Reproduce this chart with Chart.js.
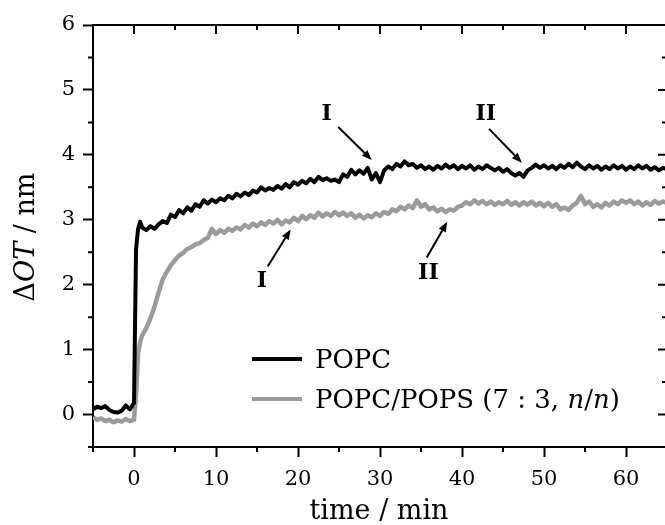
<!DOCTYPE html>
<html>
<head>
<meta charset="utf-8">
<script src="https://cdn.jsdelivr.net/npm/chart.js@4"></script>
<style>
  html, body { margin: 0; padding: 0; background: #fff; overflow: hidden; }
  #wrap { width: 675px; height: 525px; }
</style>
</head>
<body>
<div id="wrap"><canvas id="c" width="675" height="525"></canvas></div>
<script>
// Time after injection (min)
const timeMin = [
  -5, -4.5, -4, -3.5, -3, -2.5, -2, -1.5, -1, -0.5, 0,
  0.25, 0.5, 0.75, 1,
  1.5, 2, 2.5, 3, 3.5, 4, 4.5, 5, 5.5, 6,
  6.5, 7, 7.5, 8, 8.5, 9, 9.5, 10, 10.5, 11,
  11.5, 12, 12.5, 13, 13.5, 14, 14.5, 15, 15.5, 16,
  16.5, 17, 17.5, 18, 18.5, 19, 19.5, 20, 20.5, 21,
  21.5, 22, 22.5, 23, 23.5, 24, 24.5, 25, 25.5, 26,
  26.5, 27, 27.5, 28, 28.5, 29, 29.5, 30, 30.5, 31,
  31.5, 32, 32.5, 33, 33.5, 34, 34.5, 35, 35.5, 36,
  36.5, 37, 37.5, 38, 38.5, 39, 39.5, 40, 40.5, 41,
  41.5, 42, 42.5, 43, 43.5, 44, 44.5, 45, 45.5, 46,
  46.5, 47, 47.5, 48, 48.5, 49, 49.5, 50, 50.5, 51,
  51.5, 52, 52.5, 53, 53.5, 54, 54.5, 55, 55.5, 56,
  56.5, 57, 57.5, 58, 58.5, 59, 59.5, 60, 60.5, 61,
  61.5, 62, 62.5, 63, 63.5, 64, 64.5, 65
];

// Optical thickness change, POPC bilayer (nm)
const popc = [
  0.08, 0.12, 0.10, 0.13, 0.07, 0.04, 0.03, 0.06, 0.14, 0.08, 0.18,
  2.55, 2.86, 2.97, 2.88,
  2.84, 2.90, 2.86, 2.93, 2.98, 2.95, 3.08, 3.04, 3.15, 3.10,
  3.19, 3.14, 3.24, 3.20, 3.30, 3.25, 3.31, 3.27, 3.33, 3.30,
  3.37, 3.33, 3.40, 3.36, 3.42, 3.38, 3.45, 3.42, 3.50, 3.45,
  3.49, 3.46, 3.52, 3.48, 3.55, 3.50, 3.58, 3.54, 3.60, 3.56,
  3.63, 3.58, 3.66, 3.61, 3.64, 3.60, 3.62, 3.58, 3.70, 3.66,
  3.77, 3.70, 3.76, 3.71, 3.80, 3.62, 3.72, 3.58, 3.76, 3.82,
  3.78, 3.86, 3.82, 3.90, 3.84, 3.86, 3.80, 3.84, 3.78, 3.82,
  3.77, 3.83, 3.79, 3.85, 3.80, 3.84, 3.78, 3.83, 3.79, 3.84,
  3.77, 3.82, 3.78, 3.84, 3.80, 3.76, 3.80, 3.74, 3.78, 3.72,
  3.68, 3.72, 3.66, 3.76, 3.80, 3.85, 3.80, 3.84, 3.79, 3.83,
  3.78, 3.84, 3.80, 3.86, 3.81, 3.88, 3.82, 3.78, 3.84, 3.79,
  3.83, 3.77, 3.82, 3.78, 3.84, 3.79, 3.83, 3.77, 3.82, 3.78,
  3.84, 3.79, 3.83, 3.77, 3.81, 3.76, 3.80, 3.78
];

// Optical thickness change, POPC/POPS (7:3) bilayer (nm)
const popcPops = [
  -0.04, -0.08, -0.06, -0.10, -0.08, -0.12, -0.09, -0.11, -0.07, -0.10, -0.08,
  0.30, 0.95, 1.12, 1.22,
  1.33, 1.48, 1.66, 1.88, 2.08, 2.20, 2.30, 2.38, 2.45, 2.49,
  2.55, 2.58, 2.62, 2.64, 2.69, 2.72, 2.86, 2.78, 2.84, 2.80,
  2.86, 2.83, 2.88, 2.85, 2.92, 2.88, 2.94, 2.90, 2.96, 2.92,
  2.98, 2.94, 3.00, 2.93, 2.99, 2.96, 3.03, 2.98, 3.06, 3.01,
  3.07, 3.03, 3.11, 3.05, 3.10, 3.06, 3.12, 3.07, 3.11, 3.06,
  3.10, 3.03, 3.08, 3.02, 3.07, 3.04, 3.10, 3.06, 3.12, 3.09,
  3.16, 3.13, 3.20, 3.16, 3.22, 3.18, 3.30, 3.20, 3.24, 3.16,
  3.19, 3.13, 3.17, 3.12, 3.16, 3.14, 3.20, 3.22, 3.27, 3.24,
  3.30, 3.25, 3.29, 3.24, 3.28, 3.23, 3.27, 3.24, 3.29, 3.23,
  3.27, 3.22, 3.27, 3.23, 3.28, 3.22, 3.26, 3.21, 3.26, 3.20,
  3.24, 3.16, 3.19, 3.15, 3.22, 3.26, 3.37, 3.24, 3.28, 3.20,
  3.24, 3.19, 3.26, 3.22, 3.28, 3.24, 3.30, 3.26, 3.30, 3.24,
  3.28, 3.22, 3.27, 3.23, 3.29, 3.25, 3.28, 3.26
];

// Axis ticks
const xMajorTicks = [0, 10, 20, 30, 40, 50, 60];
const xMinorTicks = [-5, 5, 15, 25, 35, 45, 55, 65];
const yMajorTicks = [0, 1, 2, 3, 4, 5, 6];
const yMinorTicks = [-0.5, 0.5, 1.5, 2.5, 3.5, 4.5, 5.5];

// Legend entries (text runs: [text, italic])
const legendPOPC = [['POPC', false]];
const legendMix = [['POPC/POPS (7 : 3, ', false], ['n', true], ['/', false], ['n', true], [')', false]];

// Event markers: label position and arrow (data units)
const markers = [
  { text: 'I',  at: [23.5, 4.62], from: [24.9, 4.43], to: [29.0, 3.92] },
  { text: 'II', at: [42.9, 4.62], from: [43.3, 4.40], to: [47.3, 3.88] },
  { text: 'I',  at: [15.6, 2.05], from: [16.3, 2.28], to: [19.1, 2.85] },
  { text: 'II', at: [35.9, 2.18], from: [35.7, 2.42], to: [38.2, 2.97] }
];

const SERIF = '"DejaVu Serif", "Liberation Serif", serif';
const BLACK = '#000000';
const GREY = '#9b9b9b';

function toPoints(xs, ys) { return xs.map((t, i) => ({ x: t, y: ys[i] })); }

function drawRuns(ctx, runs, x, y, size) {
  let cx = x;
  for (const [txt, ital] of runs) {
    ctx.font = (ital ? 'italic ' : '') + size + 'px ' + SERIF;
    ctx.fillText(txt, cx, y);
    cx += ctx.measureText(txt).width;
  }
  return cx - x;
}

const framePlugin = {
  id: 'frame',
  afterDraw(chart) {
    const { ctx, chartArea: a, scales: { x, y } } = chart;
    ctx.save();
    ctx.strokeStyle = BLACK;
    ctx.lineWidth = 2;
    ctx.beginPath();
    // top and right frame lines
    ctx.moveTo(a.left - 1, a.top); ctx.lineTo(a.right + 1, a.top);
    ctx.moveTo(a.right, a.top); ctx.lineTo(a.right, a.bottom + 1);
    // mirrored inward ticks on top
    for (const v of xMajorTicks) { const p = x.getPixelForValue(v); ctx.moveTo(p, a.top); ctx.lineTo(p, a.top + 9); }
    for (const v of xMinorTicks) { const p = x.getPixelForValue(v); ctx.moveTo(p, a.top); ctx.lineTo(p, a.top + 5); }
    // minor ticks on bottom (outward)
    for (const v of xMinorTicks) { const p = x.getPixelForValue(v); ctx.moveTo(p, a.bottom); ctx.lineTo(p, a.bottom + 5); }
    // minor ticks on left (outward)
    for (const v of yMinorTicks) { const p = y.getPixelForValue(v); ctx.moveTo(a.left, p); ctx.lineTo(a.left - 5, p); }
    // mirrored inward ticks on right
    for (const v of yMajorTicks) { const p = y.getPixelForValue(v); ctx.moveTo(a.right, p); ctx.lineTo(a.right - 9, p); }
    for (const v of yMinorTicks) { const p = y.getPixelForValue(v); ctx.moveTo(a.right, p); ctx.lineTo(a.right - 5, p); }
    ctx.stroke();

    // axis titles
    ctx.fillStyle = BLACK;
    ctx.textBaseline = 'alphabetic';
    ctx.font = '27px ' + SERIF;
    ctx.textAlign = 'center';
    ctx.fillText('time / min', 379, 519);

    ctx.save();
    ctx.translate(34, 237);
    ctx.rotate(-Math.PI / 2);
    ctx.textAlign = 'left';
    const yRuns = [['\u0394', false], ['OT', true], [' / nm', false]];
    let w = 0;
    for (const [t, it] of yRuns) { ctx.font = (it ? 'italic ' : '') + '27px ' + SERIF; w += ctx.measureText(t).width; }
    drawRuns(ctx, yRuns, -w / 2, 0, 27);
    ctx.restore();

    // legend
    ctx.lineCap = 'butt';
    ctx.lineWidth = 4;
    ctx.strokeStyle = BLACK;
    ctx.beginPath(); ctx.moveTo(252, 359); ctx.lineTo(302, 359); ctx.stroke();
    ctx.strokeStyle = GREY;
    ctx.beginPath(); ctx.moveTo(252, 399); ctx.lineTo(302, 399); ctx.stroke();
    ctx.fillStyle = BLACK;
    ctx.textAlign = 'left';
    drawRuns(ctx, legendPOPC, 315, 368, 26);
    drawRuns(ctx, legendMix, 315, 408, 26);

    // event markers
    ctx.font = 'bold 22px ' + SERIF;
    ctx.textAlign = 'center';
    ctx.textBaseline = 'middle';
    ctx.strokeStyle = BLACK;
    ctx.fillStyle = BLACK;
    for (const m of markers) {
      ctx.fillText(m.text, x.getPixelForValue(m.at[0]), y.getPixelForValue(m.at[1]));
      const x0 = x.getPixelForValue(m.from[0]), y0 = y.getPixelForValue(m.from[1]);
      const x1 = x.getPixelForValue(m.to[0]), y1 = y.getPixelForValue(m.to[1]);
      const ang = Math.atan2(y1 - y0, x1 - x0);
      const hl = 10, hw = 4;
      const bx = x1 - hl * Math.cos(ang), by = y1 - hl * Math.sin(ang);
      ctx.lineWidth = 2;
      ctx.beginPath(); ctx.moveTo(x0, y0); ctx.lineTo(bx, by); ctx.stroke();
      ctx.beginPath();
      ctx.moveTo(x1, y1);
      ctx.lineTo(bx + hw * Math.sin(ang), by - hw * Math.cos(ang));
      ctx.lineTo(bx - hw * Math.sin(ang), by + hw * Math.cos(ang));
      ctx.closePath();
      ctx.fill();
    }
    ctx.restore();
  }
};

Chart.defaults.font.family = SERIF;
Chart.defaults.color = BLACK;

new Chart(document.getElementById('c'), {
  type: 'line',
  data: {
    datasets: [
      {
        label: 'POPC',
        data: toPoints(timeMin, popc),
        borderColor: BLACK,
        borderWidth: 4,
        borderJoinStyle: 'round',
        pointRadius: 0,
        tension: 0,
        order: 0
      },
      {
        label: 'POPC/POPS (7 : 3, n/n)',
        data: toPoints(timeMin, popcPops),
        borderColor: GREY,
        borderWidth: 4.5,
        borderJoinStyle: 'round',
        pointRadius: 0,
        tension: 0,
        order: 1
      }
    ]
  },
  options: {
    responsive: false,
    animation: false,
    events: [],
    layout: { padding: { top: 25, right: 8, left: 0, bottom: 0 } },
    plugins: { legend: { display: false }, tooltip: { enabled: false } },
    scales: {
      x: {
        type: 'linear',
        min: -5,
        max: 65,
        afterBuildTicks: s => { s.ticks = xMajorTicks.map(v => ({ value: v })); },
        afterFit: s => { s.height = 78; },
        ticks: { autoSkip: false, maxRotation: 0, padding: 10, font: { size: 21 }, color: BLACK,
                 callback: v => String(v) },
        grid: { drawOnChartArea: false, drawTicks: true, tickLength: 10, tickWidth: 2, tickColor: BLACK },
        border: { display: true, width: 2, color: BLACK }
      },
      y: {
        type: 'linear',
        min: -0.5,
        max: 6,
        afterBuildTicks: s => { s.ticks = yMajorTicks.map(v => ({ value: v })); },
        afterFit: s => { s.width = 93; },
        ticks: { autoSkip: false, padding: 8, font: { size: 21 }, color: BLACK,
                 callback: v => String(v) },
        grid: { drawOnChartArea: false, drawTicks: true, tickLength: 10, tickWidth: 2, tickColor: BLACK },
        border: { display: true, width: 2, color: BLACK }
      }
    }
  },
  plugins: [framePlugin]
});
</script>
</body>
</html>
